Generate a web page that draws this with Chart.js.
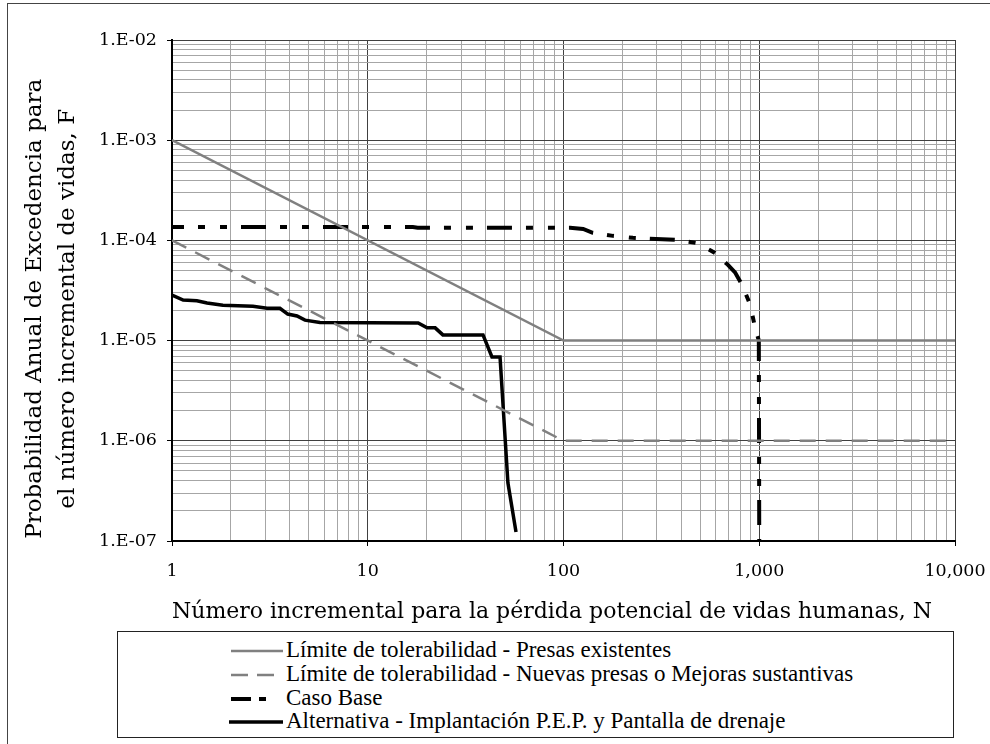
<!DOCTYPE html>
<html>
<head>
<meta charset="utf-8">
<script src="https://cdn.jsdelivr.net/npm/chart.js@4/dist/chart.umd.min.js"></script>
<style>
  body { margin: 0; background: #fff; width: 990px; height: 744px; overflow: hidden; position: relative; }
  #frame { position: absolute; left: 7px; top: 3px; width: 1100px; height: 1000px; border: 1px solid #444; }
  #wrap { position: absolute; left: 0; top: 0; width: 990px; height: 630px; }
  #legend { position: absolute; left: 117px; top: 631px; width: 835px; height: 105px; border: 1px solid #222;
            font-family: "Liberation Serif", serif; font-size: 23px; color: #000; }
  .row { position: absolute; left: 111px; height: 24px; line-height: 24px; white-space: nowrap; }
  .row svg { position: absolute; left: 0; top: 10px; }
  .row span { position: absolute; left: 57px; top: 0; }
</style>
</head>
<body>
<div id="frame"></div>
<div id="wrap"><canvas id="chart" width="990" height="630"></canvas></div>
<div id="legend">
  <div class="row" style="top:6px"><svg width="54" height="6"><line x1="2" y1="3" x2="54" y2="3" stroke="#808080" stroke-width="2.5"/></svg><span>Límite de tolerabilidad - Presas existentes</span></div>
  <div class="row" style="top:30px"><svg width="54" height="6"><line x1="2" y1="3" x2="54" y2="3" stroke="#808080" stroke-width="2.5" stroke-dasharray="17 9"/></svg><span>Límite de tolerabilidad - Nuevas presas o Mejoras sustantivas</span></div>
  <div class="row" style="top:54px"><svg width="54" height="6"><line x1="2" y1="3" x2="54" y2="3" stroke="#000" stroke-width="4" stroke-dasharray="20 8 7 20"/></svg><span>Caso Base</span></div>
  <div class="row" style="top:77px"><svg width="54" height="6"><line x1="0" y1="3" x2="54" y2="3" stroke="#000" stroke-width="3.5"/></svg><span>Alternativa - Implantación P.E.P. y Pantalla de drenaje</span></div>
</div>
<script>
// axis decades and their labels
const xDecades = [1, 10, 100, 1000, 10000];
const xTickLabels = ['1', '10', '100', '1,000', '10,000'];
const yDecades = [1e-7, 1e-6, 1e-5, 1e-4, 1e-3, 1e-2];
const yTickLabels = ['1.E-07', '1.E-06', '1.E-05', '1.E-04', '1.E-03', '1.E-02'];

// tolerability limits
const existX = [1, 100, 10000];
const existY = [1e-3, 1e-5, 1e-5];
const newX = [1, 100, 10000];
const newY = [1e-4, 1e-6, 1e-6];

// Caso Base
const baseX = [1, 17, 18, 100, 108, 126, 141, 179, 226, 380, 481, 594, 692, 752, 817, 897, 951, 995, 1000];
const baseY = [1.36e-4, 1.36e-4, 1.34e-4, 1.34e-4, 1.34e-4, 1.3e-4, 1.19e-4, 1.11e-4, 1.06e-4, 1.01e-4, 9.4e-5, 7.5e-5, 5.7e-5, 4.8e-5, 3.6e-5, 2.3e-5, 1.37e-5, 1.0e-5, 1e-7];

// Alternativa
const altX = [1, 1.14, 1.34, 1.51, 1.82, 2.59, 3.06, 3.56, 3.9, 4.35, 4.78, 5.7, 18.1, 20.1, 22.1, 24.2, 38.8, 43.1, 47.4, 52.0, 57.2];
const altY = [2.85e-5, 2.54e-5, 2.5e-5, 2.37e-5, 2.25e-5, 2.2e-5, 2.1e-5, 2.1e-5, 1.84e-5, 1.76e-5, 1.6e-5, 1.52e-5, 1.5e-5, 1.34e-5, 1.34e-5, 1.14e-5, 1.14e-5, 6.86e-6, 6.86e-6, 3.8e-7, 1.23e-7];

const toPoints = (xs, ys) => xs.map((x, i) => ({ x: x, y: ys[i] }));

// gridline positions: 1..9 inside every decade
function logTicks(decades) {
    let out = [];
    for (let d = 0; d < decades.length; d++) {
        if (d === decades.length - 1) { out.push(decades[d]); break; }
        for (let m = 1; m <= 9; m++) out.push(decades[d] * m);
    }
    return out;
}

function isDecade(v, decades) {
    return decades.some(d => Math.abs(v / d - 1) < 1e-6);
}

function labelFor(v, decades, labels) {
    const i = decades.findIndex(d => Math.abs(v / d - 1) < 1e-6);
    return i >= 0 ? labels[i] : '';
}

const serif = 'DejaVu Serif';
const pad = '\u00a0'.repeat(5);

new Chart(document.getElementById('chart'), {
    type: 'line',
    data: {
        datasets: [
            { label: 'Límite de tolerabilidad - Presas existentes', data: toPoints(existX, existY),
              borderColor: '#808080', borderWidth: 2.5, pointRadius: 0 },
            { label: 'Límite de tolerabilidad - Nuevas presas o Mejoras sustantivas', data: toPoints(newX, newY),
              borderColor: '#808080', borderWidth: 2.5, borderDash: [16, 10], pointRadius: 0 },
            { label: 'Caso Base', data: toPoints(baseX, baseY),
              borderColor: '#000', borderWidth: 4, borderDash: [25, 14, 7, 15, 7, 14], borderDashOffset: 13, pointRadius: 0 },
            { label: 'Alternativa - Implantación P.E.P. y Pantalla de drenaje', data: toPoints(altX, altY),
              borderColor: '#000', borderWidth: 3.5, pointRadius: 0 }
        ]
    },
    options: {
        responsive: false,
        animation: false,
        layout: { padding: { left: 0, top: 40, right: 35, bottom: 0 } },
        plugins: { legend: { display: false }, tooltip: { enabled: false } },
        scales: {
            x: {
                type: 'logarithmic',
                min: 1, max: 10000,
                afterBuildTicks: s => { s.ticks = logTicks(xDecades).map(v => ({ value: v })); },
                afterFit: s => { s.height = 89; s.paddingLeft = 0; s.paddingRight = 0; },
                ticks: {
                    autoSkip: false, maxRotation: 0, padding: 15, color: '#000',
                    font: { family: serif, size: 17.5 },
                    callback: v => labelFor(v, xDecades, xTickLabels)
                },
                grid: {
                    color: c => isDecade(c.tick.value, xDecades) ? '#404040' : '#a6a6a6',
                    tickColor: c => isDecade(c.tick.value, xDecades) ? '#000' : 'rgba(0,0,0,0)',
                    tickLength: 5
                },
                border: { color: '#000', width: 2 },
                title: {
                    display: true, align: 'start', color: '#000',
                    text: 'Número incremental para la pérdida potencial de vidas humanas, N',
                    font: { family: serif, size: 22 }, padding: { top: 0, bottom: 5 }
                }
            },
            y: {
                type: 'logarithmic',
                min: 1e-7, max: 1e-2,
                afterBuildTicks: s => { s.ticks = logTicks(yDecades).map(v => ({ value: v })); },
                afterFit: s => { s.width = 172; s.paddingTop = 0; s.paddingBottom = 0; },
                ticks: {
                    autoSkip: false, padding: 10, color: '#000',
                    font: { family: serif, size: 17.5 },
                    callback: v => labelFor(v, yDecades, yTickLabels)
                },
                grid: {
                    color: c => isDecade(c.tick.value, yDecades) ? '#404040' : '#a6a6a6',
                    tickColor: c => isDecade(c.tick.value, yDecades) ? '#000' : 'rgba(0,0,0,0)',
                    tickLength: 5
                },
                border: { color: '#000', width: 2 },
                title: {
                    display: true, color: '#000',
                    text: ['Probabilidad Anual de Excedencia para' + pad, 'el número incremental de vidas, F' + pad],
                    font: { family: serif, size: 23, lineHeight: 1.45 }, padding: { top: 18, bottom: 0 }
                }
            }
        }
    }
});
</script>
</body>
</html>
